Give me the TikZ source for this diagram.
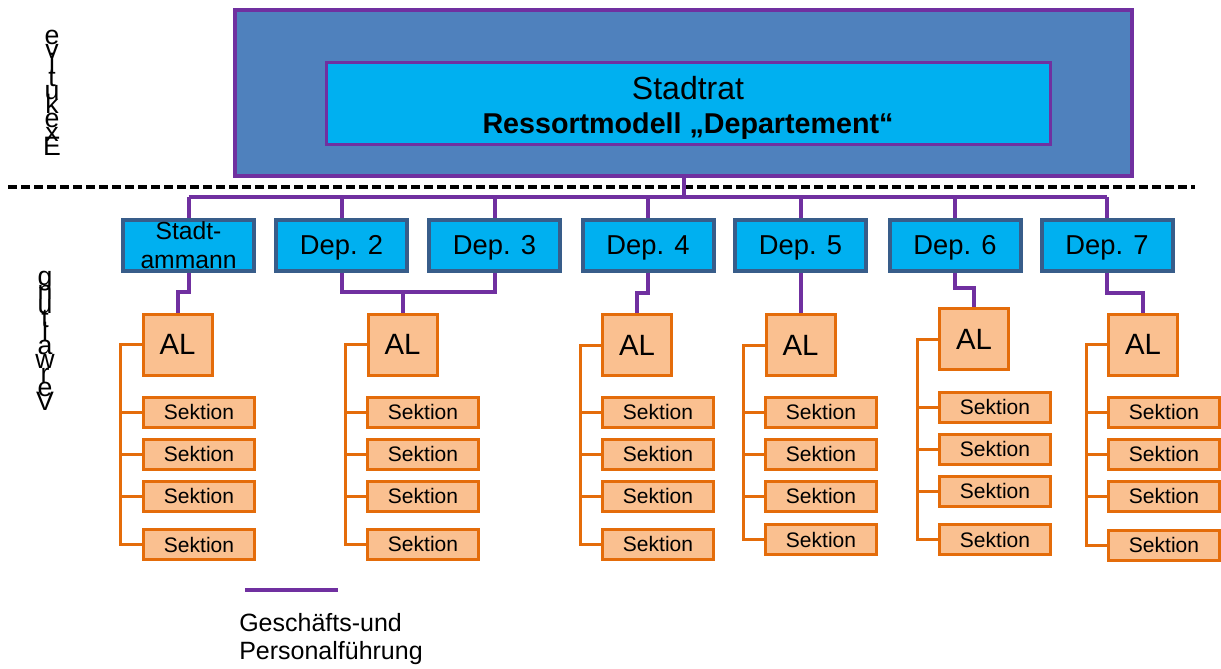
\documentclass[tikz,border=0pt]{standalone}
\usepackage{fontspec}
\setmainfont{Liberation Sans}
\definecolor{vio}{RGB}{112,48,160}
\definecolor{steel}{RGB}{79,129,189}
\definecolor{sky}{RGB}{0,176,240}
\definecolor{depframe}{RGB}{56,93,138}
\definecolor{orng}{RGB}{228,108,10}
\definecolor{peach}{RGB}{250,192,144}
\begin{document}
\begin{tikzpicture}[x=0.75pt,y=-0.75pt,
  sz/.style args={#1/#2}{minimum width=#1*0.75pt, minimum height=#2*0.75pt},
  depbox/.style={draw=depframe, fill=sky, line width=3pt, inner sep=0pt, sz=131/51,
    text depth=0pt, font=\fontsize{20.5}{22}\selectfont},
  albox/.style={draw=orng, fill=peach, line width=2.25pt, inner sep=0pt, sz=69/61,
    font=\fontsize{22}{24}\selectfont},
  sekbox/.style={draw=orng, fill=peach, line width=2.25pt, inner sep=0pt, sz=111/30,
    font=\fontsize{15.75}{17}\selectfont},
  lead/.style={draw=vio, line width=3pt},
  branch/.style={draw=orng, line width=2.25pt},
  stacked/.style={anchor=base, inner sep=0pt, font=\fontsize{20}{20}\selectfont},
  legtext/.style={anchor=base west, inner sep=0pt, font=\fontsize{18.75}{21}\selectfont}]

\useasboundingbox (0,0) rectangle (1221,668);

% executive level
\node[draw=vio, fill=steel, line width=3pt, inner sep=0pt, sz=897/166] (exec) at (683.5,92.75) {};
\node[draw=vio, fill=sky, line width=2.5pt, inner sep=0pt, sz=724/82] (rat) at (688.5,103.5) {};
\node[anchor=base, inner sep=0pt, font=\fontsize{24}{26}\selectfont] (rattitle) at (688,99) {Stadtrat};
\node[anchor=base, inner sep=0pt, font=\bfseries\fontsize{21.5}{24}\selectfont] (ratsub) at (688,133) {Ressortmodell „Departement“};

% boundary between executive and administration
\coordinate (sepL) at (8,187);
\coordinate (sepR) at (1195,187);
\draw[line width=3pt, dash pattern=on 6.75pt off 3pt] (sepL) -- (sepR);

% departments
\node[depbox, align=center, font=\fontsize{18.5}{21.75}\selectfont] (sa) at (188.5,245) {Stadt-\\ammann};
\node[depbox] (d2) at (341.5,245) {Dep. 2};
\node[depbox] (d3) at (494.5,245) {Dep. 3};
\node[depbox] (d4) at (648,245) {Dep. 4};
\node[depbox] (d5) at (800.5,245) {Dep. 5};
\node[depbox] (d6) at (955,245) {Dep. 6};
\node[depbox] (d7) at (1107,245) {Dep. 7};

% bus from the council to the departments
\coordinate (bus) at (0,197);
\draw[lead] (exec.south) -- (exec.south |- bus);
\draw[lead] (sa.north |- bus) -- (d7.north |- bus);
\foreach \d in {sa,d2,d3,d4,d5,d6,d7}
  \draw[lead] (\d.north |- bus) -- (\d.north);

% heads of office
\node[albox] (al1) at (177.5,344.5) {AL};
\node[albox] (al2) at (402.5,344.5) {AL};
\node[albox] (al3) at (637,345) {AL};
\node[albox] (al4) at (800.5,345) {AL};
\node[albox] (al5) at (974,339) {AL};
\node[albox] (al6) at (1143,344.5) {AL};

% sections
\foreach \c/\x/\ya/\yb/\yc/\yd in {1/199/412/454/496/544.5, 2/423/412/454/496/544,
    3/658/412/454/496/544, 4/821/412/454/496/539.5, 5/995/407/449/491/539.5,
    6/1164/412/454/496/545} {
  \node[sekbox] (s\c1) at (\x,\ya) {Sektion};
  \node[sekbox] (s\c2) at (\x,\yb) {Sektion};
  \node[sekbox] (s\c3) at (\x,\yc) {Sektion};
  \node[sekbox] (s\c4) at (\x,\yd) {Sektion};
}

% section brackets
\foreach \c/\bx in {1/120, 2/345, 3/580, 4/743, 5/917, 6/1086} {
  \coordinate (b\c) at (\bx,0);
  \draw[branch] (al\c.west) -| (b\c |- s\c4.west) -- (s\c4.west);
  \foreach \k in {1,2,3}
    \draw[branch] (b\c |- s\c\k.west) -- (s\c\k.west);
}

% leadership lines from departments to heads of office
\coordinate (ja) at (0,292);
\coordinate (jb) at (0,293);
\coordinate (jc) at (0,288);
\draw[lead] (sa.south) -- (sa.south |- ja) -| (al1.north);
\draw[lead] (d2.south) -- (d2.south |- ja) -- (d3.south |- ja) -- (d3.south);
\draw[lead] (al2.north) -- (al2.north |- ja);
\draw[lead] (d4.south) -- (d4.south |- jb) -| (al3.north);
\draw[lead] (d5.south) -- (al4.north);
\draw[lead] (d6.south) -- (d6.south |- jc) -| (al5.north);
\draw[lead] (d7.south) -- (d7.south |- jb) -| (al6.north);

% stacked level labels
\foreach \ch [count=\i from 0] in {E,x,e,k,u,t,i,v,e}
  \node[stacked] (ex\i) at (52,{155-13.8*\i}) {\ch};
\foreach \ch [count=\i from 0] in {V,e,r,w,a,l,t,u,n,g}
  \node[stacked] (vw\i) at (45,{410-13.8*\i}) {\ch};

% legend
\coordinate (lg1) at (245,590);
\coordinate (lg2) at (338,590);
\draw[lead] (lg1) -- (lg2);
\node[legtext] (leg1) at (239,631) {Geschäfts-und};
\node[legtext] (leg2) at (239,659) {Personalführung};

\end{tikzpicture}
\end{document}
